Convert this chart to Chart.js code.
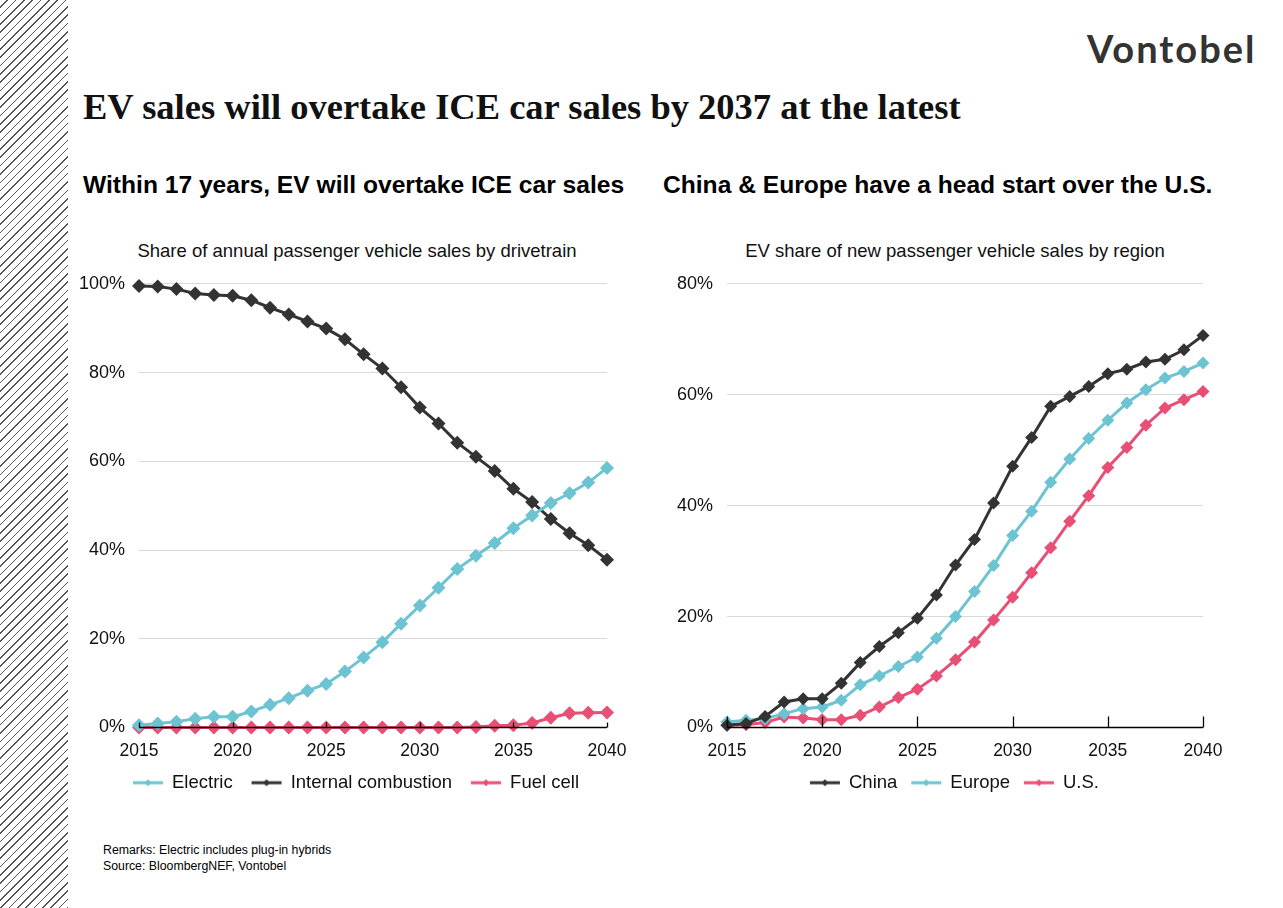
<!DOCTYPE html>
<html>
<head>
<meta charset="utf-8">
<script src="https://cdn.jsdelivr.net/npm/chart.js@4.4.0/dist/chart.umd.min.js"></script>
<style>
  body { margin: 0; background: #fff; font-family: "Liberation Sans", Arial, sans-serif; }
  #page { position: relative; width: 1283px; height: 908px; overflow: hidden; background: #fff; }
  .hatch { position: absolute; left: 0; top: 0; width: 68px; height: 908px;
    background: repeating-linear-gradient(135deg, #fff 0px, #fff 4.8px, #555 4.8px, #555 5.9px); }
  .logo { position: absolute; left: 1087px; top: 25px; font-family: "Lato", sans-serif; font-weight: 700;
    font-size: 38px; color: #333; letter-spacing: 2px; }
  .title { position: absolute; left: 83px; top: 85px; font-family: "Liberation Serif", serif; font-weight: 700;
    font-size: 36.5px; color: #111; white-space: nowrap; }
  .sub { position: absolute; top: 171px; font-weight: 700; font-size: 24.6px; color: #000; white-space: nowrap; }
  .ctitle { position: absolute; top: 240px; font-size: 18.5px; color: #111; white-space: nowrap; text-align: center; }
  .note { position: absolute; left: 103px; font-size: 12.3px; color: #000; }
  .box { position: absolute; }
</style>
</head>
<body>
<div id="page">
  <div class="hatch"></div>
  <div class="logo">Vontobel</div>
  <div class="title">EV sales will overtake ICE car sales by 2037 at the latest</div>
  <div class="sub" style="left:83px">Within 17 years, EV will overtake ICE car sales</div>
  <div class="sub" style="left:663px">China &amp; Europe have a head start over the U.S.</div>
  <div class="ctitle" style="left:57px;width:600px">Share of annual passenger vehicle sales by drivetrain</div>
  <div class="ctitle" style="left:655px;width:600px">EV share of new passenger vehicle sales by region</div>
  <div class="box" style="left:70px;top:259px;width:590px;height:543px"><canvas id="leftChart"></canvas></div>
  <div class="box" style="left:660px;top:259px;width:598px;height:543px"><canvas id="rightChart"></canvas></div>
  <div class="note" style="top:843px">Remarks: Electric includes plug-in hybrids</div>
  <div class="note" style="top:859px">Source: BloombergNEF, Vontobel</div>
</div>
<script>
// data
var years = [2015, 2016, 2017, 2018, 2019, 2020, 2021, 2022, 2023, 2024, 2025, 2026, 2027,
  2028, 2029, 2030, 2031, 2032, 2033, 2034, 2035, 2036, 2037, 2038, 2039, 2040];

var electric = [0.5, 0.9, 1.3, 2.0, 2.4, 2.4, 3.6, 5.1, 6.6, 8.3, 9.8, 12.6, 15.8,
  19.2, 23.4, 27.5, 31.5, 35.7, 38.7, 41.6, 44.9, 47.8, 50.6, 52.8, 55.2, 58.5];
var combustion = [99.5, 99.4, 98.8, 97.8, 97.5, 97.3, 96.3, 94.6, 93.1, 91.5, 89.9, 87.5, 84.1,
  80.9, 76.7, 72.1, 68.5, 64.2, 61.0, 57.8, 53.8, 50.8, 47.0, 43.8, 41.1, 37.8];
var fuelCell = [0, 0, 0, 0, 0, 0, 0, 0, 0, 0, 0, 0, 0,
  0, 0, 0, 0, 0, 0.1, 0.4, 0.5, 1.0, 2.2, 3.2, 3.3, 3.4];

var china = [0.4, 0.7, 2.0, 4.6, 5.2, 5.2, 8.0, 11.7, 14.6, 17.1, 19.7, 23.9, 29.3,
  33.9, 40.5, 47.1, 52.3, 57.9, 59.7, 61.5, 63.8, 64.6, 65.9, 66.4, 68.1, 70.7];
var europe = [1.0, 1.3, 1.6, 2.5, 3.4, 3.7, 4.9, 7.7, 9.3, 11.0, 12.7, 16.1, 20.0,
  24.5, 29.2, 34.6, 39.0, 44.2, 48.4, 52.1, 55.4, 58.5, 60.9, 63.0, 64.2, 65.7];
var us = [0.4, 0.5, 0.9, 1.9, 1.7, 1.4, 1.4, 2.2, 3.7, 5.4, 6.9, 9.3, 12.2,
  15.4, 19.4, 23.5, 27.9, 32.4, 37.2, 41.8, 46.9, 50.5, 54.5, 57.6, 59.1, 60.6];

var leftTicks = [0, 20, 40, 60, 80, 100];
var rightTicks = [0, 20, 40, 60, 80];

var DARK = "#333333";
var CYAN = "#6cc4d3";
var PINK = "#e94f75";

function pts(arr) {
  return arr.map(function (v, i) { return { x: years[i], y: v }; });
}

// legend picture: blank lead-in, then a line with a small diamond
function legendIcon(color, lead) {
  var c = document.createElement("canvas");
  c.width = lead + 36.25; c.height = 10;
  var g = c.getContext("2d");
  g.strokeStyle = color; g.lineWidth = 3;
  g.beginPath(); g.moveTo(lead, 5); g.lineTo(lead + 30, 5); g.stroke();
  g.fillStyle = color;
  var m = lead + 15;
  g.beginPath(); g.moveTo(m, 1.5); g.lineTo(m + 3.5, 5); g.lineTo(m, 8.5); g.lineTo(m - 3.5, 5); g.closePath(); g.fill();
  return c;
}

function ds(label, data, color, r) {
  return {
    label: label, data: pts(data), borderColor: color, backgroundColor: color,
    borderWidth: 3, pointStyle: "rectRot", pointRadius: r, pointHoverRadius: r,
    pointBorderWidth: 0, tension: 0, clip: false
  };
}

// tick marks pointing up into the plot
function innerTicks(len) {
  return {
    id: "innerTicks",
    afterDatasetsDraw: function (chart) {
      var xs = chart.scales.x, ctx = chart.ctx, b = chart.chartArea.bottom;
      ctx.save();
      ctx.strokeStyle = "#000"; ctx.lineWidth = 1.3;
      xs.ticks.forEach(function (t) {
        var px = Math.round(xs.getPixelForValue(t.value)) + 0.5;
        ctx.beginPath(); ctx.moveTo(px, b); ctx.lineTo(px, b - len); ctx.stroke();
      });
      ctx.beginPath(); ctx.moveTo(chart.chartArea.left, b); ctx.lineTo(chart.chartArea.right, b); ctx.stroke();
      ctx.restore();
    }
  };
}

function makeOptions(max, ticks, yWidth, leftPad, rightPad, lead) {
  return {
    responsive: true, maintainAspectRatio: false, animation: false,
    layout: { padding: { top: 2, right: rightPad, left: leftPad, bottom: 0 } },
    plugins: {
      tooltip: { enabled: false },
      legend: {
        position: "bottom",
        labels: {
          usePointStyle: true, pointStyleWidth: lead + 23.75, padding: 12,
          color: "#111", font: { family: "Liberation Sans", size: 18.5 },
          generateLabels: function (chart) {
            return chart.data.datasets.map(function (d, i) {
              return { text: d.label, pointStyle: legendIcon(d.borderColor, lead), fillStyle: d.borderColor,
                strokeStyle: d.borderColor, lineWidth: 0, datasetIndex: i, fontColor: "#111" };
            });
          }
        }
      }
    },
    scales: {
      x: {
        type: "linear", min: 2015, max: 2040,
        ticks: { stepSize: 5, color: "#111", font: { family: "Liberation Sans", size: 17.5 },
          padding: 13, callback: function (v) { return String(v); } },
        grid: { display: false, drawTicks: false },
        border: { display: false },
        afterFit: function (s) { s.height = 34; }
      },
      y: {
        min: 0, max: max,
        afterBuildTicks: function (s) { s.ticks = ticks.map(function (v) { return { value: v }; }); },
        ticks: { color: "#111", font: { family: "Liberation Sans", size: 18 }, padding: 14,
          callback: function (v) { return v + "%"; } },
        grid: { color: "#d9d9d9", lineWidth: 1, drawTicks: false },
        border: { display: false },
        afterFit: function (s) {
          s.width = yWidth;
          // narrow axis box, so let the % labels spill out into the padding
          s._computeLabelArea = function () { return undefined; };
        }
      }
    }
  };
}

new Chart(document.getElementById("leftChart"), {
  type: "line",
  data: { datasets: [
    ds("Electric", electric, CYAN, 7),
    ds("Internal combustion", combustion, DARK, 7),
    ds("Fuel cell", fuelCell, PINK, 7)
  ] },
  options: makeOptions(100, leftTicks, 41, 28, 53, 13),
  plugins: [innerTicks(5)]
});

new Chart(document.getElementById("rightChart"), {
  type: "line",
  data: { datasets: [
    ds("China", china, DARK, 6.5),
    ds("Europe", europe, CYAN, 6.5),
    ds("U.S.", us, PINK, 6.5)
  ] },
  options: makeOptions(80, rightTicks, 23, 44, 55, 8),
  plugins: [innerTicks(11)]
});
</script>
</body>
</html>
